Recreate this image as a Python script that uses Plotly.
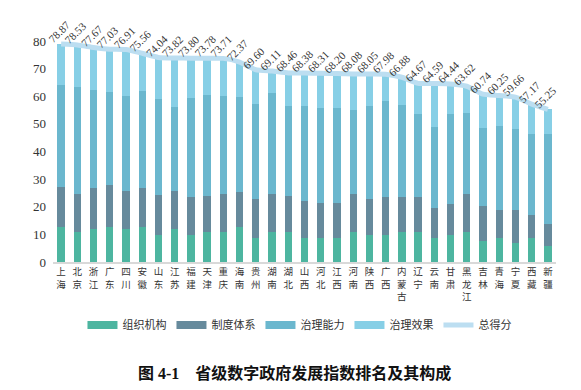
import plotly.graph_objects as go

provinces = ["上海", "北京", "浙江", "广东", "四川", "安徽", "山东", "江苏", "福建", "天津", "重庆",
             "海南", "贵州", "湖南", "湖北", "山西", "河北", "江西", "河南", "陕西", "广西", "内蒙古",
             "辽宁", "云南", "甘肃", "黑龙江", "吉林", "青海", "宁夏", "西藏", "新疆"]

total = [78.87, 78.53, 77.67, 77.03, 76.91, 75.56, 74.04, 73.82, 73.80, 73.78, 73.71,
         72.37, 69.60, 69.11, 68.46, 68.38, 68.31, 68.20, 68.08, 68.05, 67.98, 66.88,
         64.67, 64.59, 64.44, 63.62, 60.74, 60.25, 59.66, 57.17, 55.25]

org = [12.8, 10.9, 11.8, 12.8, 11.8, 12.8, 9.8, 11.8, 9.8, 10.9, 10.9,
       12.8, 8.8, 10.9, 10.9, 8.8, 8.8, 8.8, 10.9, 9.8, 9.8, 10.9,
       10.9, 8.8, 9.8, 10.9, 7.7, 8.8, 6.8, 8.8, 5.8]

system = [14.5, 13.7, 15.1, 15.2, 13.9, 14.0, 14.5, 13.9, 13.8, 13.1, 13.7,
          12.5, 13.9, 13.7, 13.1, 13.3, 12.6, 12.6, 13.7, 13.1, 13.8, 12.6,
          12.6, 10.7, 11.2, 13.7, 12.7, 10.0, 11.9, 8.2, 8.1]

capacity = [36.7, 38.9, 35.4, 33.5, 34.4, 35.1, 34.7, 30.4, 35.8, 36.6, 35.5,
            34.4, 34.6, 36.5, 32.5, 34.4, 34.3, 34.3, 30.4, 33.6, 34.7, 33.3,
            30.1, 29.4, 32.6, 29.3, 28.1, 30.4, 29.3, 29.3, 32.4]

effect = [round(t - o - s - c, 2) for t, o, s, c in zip(total, org, system, capacity)]

series_names = ["组织机构", "制度体系", "治理能力", "治理效果"]
series_colors = ["#4db5a0", "#668a9c", "#6bb7ce", "#87cfe6"]
line_name = "总得分"
line_color = "#bcdef1"
title_text = "<b>图 4-1</b>    <b>省级数字政府发展指数排名及其构成</b>"

idx = list(range(len(provinces)))

fig = go.Figure()
for name, vals, col in zip(series_names, [org, system, capacity, effect], series_colors):
    fig.add_trace(go.Bar(x=provinces, y=vals, name=name, marker=dict(color=col, line=dict(width=0)),
                         showlegend=False, legendgroup=name))

# legend entries (wide swatches) for the bar series
for name, col in zip(series_names, series_colors):
    fig.add_trace(go.Scatter(x=[None], y=[None], mode="lines", name=name, legendgroup=name,
                             line=dict(color=col, width=8)))

# total-score line, drawn on an overlay axis indexed like the categories
fig.add_trace(go.Scatter(x=idx, y=total, xaxis="x2", yaxis="y", mode="lines", name=line_name,
                         line=dict(color=line_color, width=5, shape="spline", smoothing=0.5),
                         showlegend=True))

# value labels
for i, t in zip(idx, total):
    fig.add_annotation(xref="x2", yref="y", x=i, y=t, text=f"{t:.2f}", textangle=-45,
                       showarrow=False, xanchor="center", yanchor="bottom", yshift=-4, xshift=-2,
                       font=dict(family="Liberation Serif", size=11, color="#333333"))

fig.add_annotation(xref="paper", yref="paper", x=0.48, y=-0.50, text=title_text, showarrow=False,
                   xanchor="center", yanchor="middle",
                   font=dict(family="Liberation Serif, Noto Sans CJK SC", size=16, color="#111111"))

fig.update_layout(
    width=565, height=374,
    margin=dict(l=45, r=17, t=33, b=120, autoexpand=False),
    barmode="stack", bargap=0.55,
    plot_bgcolor="white", paper_bgcolor="white",
    font=dict(family="Noto Sans CJK SC", color="#333333"),
    legend=dict(orientation="h", x=0.49, xanchor="center", y=-0.285, yanchor="middle",
                font=dict(family="Noto Sans CJK SC", size=11, color="#333333"),
                itemwidth=30, traceorder="normal", tracegroupgap=0, itemclick=False),
    xaxis=dict(tickmode="array", tickvals=provinces, ticktext=["<br>".join(p) for p in provinces],
               tickfont=dict(family="Noto Sans CJK SC", size=9.5, color="#333333"),
               showline=True, linecolor="#d9d9d9", linewidth=2, ticks="", showgrid=False,
               tickangle=0, automargin=False),
    xaxis2=dict(overlaying="x", anchor="y", range=[-0.5, len(provinces) - 0.5],
                showticklabels=False, showgrid=False, zeroline=False, showline=False, ticks=""),
    yaxis=dict(range=[0, 80], dtick=10, showgrid=False, zeroline=False, showline=False,
               tickfont=dict(family="Liberation Serif", size=13, color="#333333"), ticks="",
               ticklabelstandoff=6, automargin=False),
)

fig.write_html("out.html")
